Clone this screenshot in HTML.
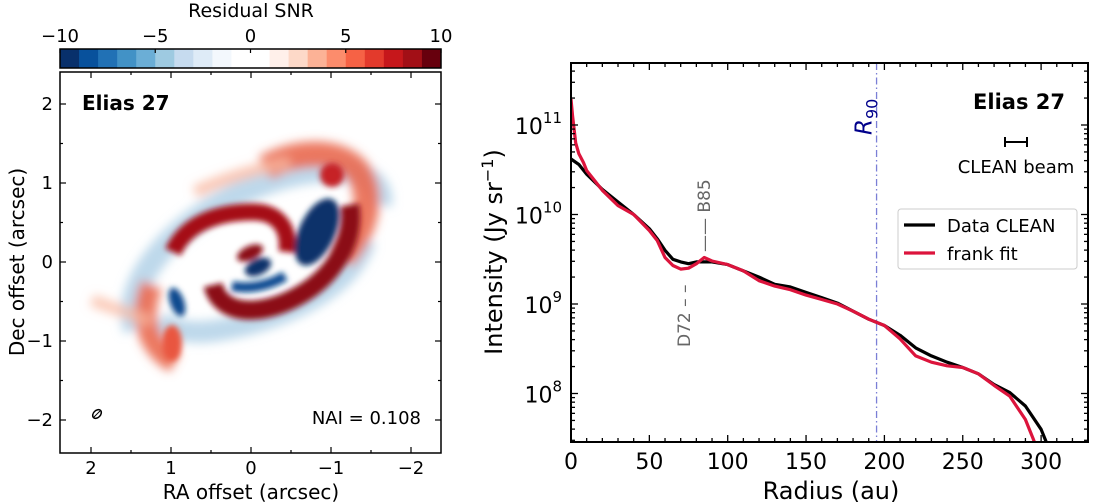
<!DOCTYPE html>
<html><head><meta charset="utf-8">
<style>
html,body{margin:0;padding:0;background:#fff;}
svg{display:block;font-family:"DejaVu Sans","Liberation Sans",sans-serif;}
</style></head>
<body>
<svg id="fig" width="1093" height="503" viewBox="0 0 1093 503" xmlns="http://www.w3.org/2000/svg">
<defs>
<clipPath id="lclip"><rect x="60" y="72" width="381" height="381"/></clipPath>
<clipPath id="rclip"><rect x="571" y="63" width="517" height="379"/></clipPath>
<filter id="blur" x="-20%" y="-20%" width="140%" height="140%"><feGaussianBlur stdDeviation="3"/></filter>
<filter id="blur2" x="-20%" y="-20%" width="140%" height="140%"><feGaussianBlur stdDeviation="5"/></filter>
</defs>

<!-- LEFT PANEL -->
<text x="251" y="17" text-anchor="middle" font-size="19">Residual SNR</text>
<g id="cbar"></g>

<g clip-path="url(#lclip)">
  <g filter="url(#blur2)">
    <path d="M135,330 C120,280 180,215 260,185 C330,158 385,170 380,205" fill="none" stroke="#b3d1e8" stroke-width="24" opacity="0.85"/>
    <path d="M365,240 C350,290 280,320 220,330 C190,335 170,330 160,320" fill="none" stroke="#b3d1e8" stroke-width="22" opacity="0.85"/>
    <path d="M265,168 C300,148 345,150 360,175 C375,200 362,235 342,258" fill="none" stroke="#ea6a50" stroke-width="26" opacity="0.9"/>
    <path d="M152,285 C138,315 148,348 175,362" fill="none" stroke="#ea6a50" stroke-width="22" opacity="0.9"/>
    <path d="M195,192 C230,176 260,168 290,163" fill="none" stroke="#f9b9a2" stroke-width="12" opacity="0.8"/>
    <path d="M92,300 C110,308 130,312 150,322" fill="none" stroke="#f9b9a2" stroke-width="12" opacity="0.75"/>
  </g>
  <g filter="url(#blur)">
    <circle cx="332" cy="175" r="12" fill="#c62328"/>
    <ellipse cx="172" cy="343" rx="10" ry="18" fill="#e9573f"/>
    <path d="M173,252 C185,225 215,212 253,212 C275,212 290,225 287,252" fill="none" stroke="#a50f15" stroke-width="17"/>
    <path d="M213,285 C220,315 260,318 300,295 C335,275 355,240 350,205" fill="none" stroke="#8b0a12" stroke-width="19"/>
    <ellipse cx="250" cy="253" rx="14" ry="7" transform="rotate(-25 250 253)" fill="#8b0a12"/>
    <ellipse cx="317" cy="232" rx="18" ry="36" transform="rotate(25 317 232)" fill="#08306b"/>
    <ellipse cx="258" cy="267" rx="14" ry="8" transform="rotate(-25 258 267)" fill="#08306b"/>
    <path d="M232,286 C250,290 270,285 285,276" fill="none" stroke="#0b4c92" stroke-width="10"/>
    <ellipse cx="177" cy="302" rx="7" ry="15" transform="rotate(-20 177 302)" fill="#0d4a8e"/>
  </g>
</g>
<rect x="60" y="72" width="381" height="381" fill="none" stroke="#000" stroke-width="1.5"/>
<g id="lticks"></g>
<text x="82" y="110" font-size="20" font-weight="bold">Elias 27</text>
<text x="421" y="424" font-size="18" text-anchor="end">NAI = 0.108</text>
<ellipse cx="97" cy="414" rx="5" ry="3.5" transform="rotate(-45 97 414)" fill="none" stroke="#000" stroke-width="1.5"/>
<line x1="94" y1="417" x2="100" y2="411" stroke="#000" stroke-width="1"/>
<text x="251" y="499" font-size="20" text-anchor="middle">RA offset  (arcsec)</text>
<text transform="translate(24 262) rotate(-90)" font-size="20" text-anchor="middle">Dec offset  (arcsec)</text>

<!-- RIGHT PANEL -->
<g id="rplot"></g>
</svg>

<script>
// Radial profile data (radius in au, log10 intensity in Jy/sr)
const cleanRadius = [0,5,10,20,30,40,50,55,60,65,70,75,80,90,100,110,120,130,140,150,160,170,180,190,200,210,220,230,240,250,260,270,280,290,300,303,306];
const cleanLogI   = [10.62,10.56,10.45,10.28,10.14,10.0,9.84,9.73,9.6,9.5,9.47,9.45,9.47,9.47,9.44,9.37,9.3,9.22,9.19,9.13,9.07,9.01,8.92,8.83,8.76,8.65,8.51,8.42,8.35,8.29,8.22,8.1,8.01,7.86,7.6,7.47,7.35];
const frankRadius = [0,1,3,5,8,10,20,30,40,50,55,60,65,70,75,80,85,90,100,110,120,130,140,150,160,170,180,190,200,210,220,230,240,250,260,270,280,290,295,298];
const frankLogI   = [11.29,11.1,10.8,10.68,10.58,10.49,10.27,10.1,10.0,9.82,9.71,9.52,9.43,9.39,9.4,9.45,9.52,9.48,9.44,9.37,9.26,9.2,9.16,9.1,9.05,9.0,8.92,8.83,8.76,8.61,8.42,8.35,8.31,8.29,8.22,8.09,7.97,7.71,7.49,7.35];
const r90 = 195;
const xTicks = [0,50,100,150,200,250,300];
const yDecades = [8,9,10,11];
const cbarTicks = [-10,-5,0,5,10];
const cbarColors = ["#08306b","#08519c","#2171b5","#4292c6","#6baed6","#9ecae1","#c6dbef","#deebf7","#f3f8fd","#ffffff","#ffffff","#fff0ea","#fdd9c8","#fcb296","#fc8c6c","#f66245","#e33a2c","#c6171b","#a20f16","#67000d"];
const mapTicks = [-2,-1,0,1,2];

const NS = "http://www.w3.org/2000/svg";
function mk(parent, tag, attrs, text){
  const e = document.createElementNS(NS, tag);
  for (const k in attrs) e.setAttribute(k, attrs[k]);
  if (text !== undefined) e.textContent = text;
  parent.appendChild(e);
  return e;
}

// colorbar
const cb = document.getElementById('cbar');
const cbX0 = 60, cbX1 = 441, cbY = 49, cbH = 19;
const cw = (cbX1 - cbX0) / cbarColors.length;
cbarColors.forEach((c, i) => {
  const r = mk(cb, 'rect', {x: cbX0 + i*cw, y: cbY, width: cw+0.5, height: cbH, fill: c});
  
  
});
mk(cb, 'rect', {x: cbX0, y: cbY, width: cbX1-cbX0, height: cbH, fill: 'none', stroke: '#000', 'stroke-width': 1.5});
const cbx = v => cbX0 + (v + 10) / 20 * (cbX1 - cbX0);
cbarTicks.forEach(v => {
  mk(cb, 'line', {x1: cbx(v), x2: cbx(v), y1: cbY, y2: cbY+4, stroke: '#000', 'stroke-width': 1.2});
  const t = mk(cb, 'text', {x: cbx(v), y: 42, 'font-size': 18, 'text-anchor': 'middle'}, v < 0 ? '\u2212' + Math.abs(v) : String(v));
  
  
});

// map ticks
const lt = document.getElementById('lticks');
const mx = v => 251 - v * 80;
const my = v => 262 - v * 79;
for (let v = -2.3; v <= 2.31; v += 0.1) {
  const vv = Math.round(v*10)/10;
  const major = Math.abs(vv - Math.round(vv)) < 1e-6;
  const minorOk = Math.abs(vv*4 - Math.round(vv*4)) < 1e-6;
  if (!major && !minorOk) continue;
  const L = major ? 6 : 3;
  const x = mx(vv), y = my(vv);
  if (x >= 60 && x <= 441) {
    mk(lt, 'line', {x1: x, x2: x, y1: 453, y2: 453-L, stroke: '#000', 'stroke-width': 1.2});
    mk(lt, 'line', {x1: x, x2: x, y1: 72, y2: 72+L, stroke: '#000', 'stroke-width': 1.2});
  }
  if (y >= 72 && y <= 453) {
    mk(lt, 'line', {x1: 60, x2: 60+L, y1: y, y2: y, stroke: '#000', 'stroke-width': 1.2});
    mk(lt, 'line', {x1: 441, x2: 441-L, y1: y, y2: y, stroke: '#000', 'stroke-width': 1.2});
  }
}
mapTicks.forEach(v => {
  const s = v < 0 ? '\u2212' + Math.abs(v) : String(v);
  const a = mk(lt, 'text', {x: mx(v), y: 474, 'font-size': 18, 'text-anchor': 'middle'}, s);
  
  
  const b = mk(lt, 'text', {x: 53, y: my(v)+6, 'font-size': 18, 'text-anchor': 'end'}, s);
  
  
});

// right plot
const rp = document.getElementById('rplot');
const PX0 = 571, PX1 = 1088, PY0 = 63, PY1 = 442;
const xs = r => PX0 + r * 1.567;
const ys = l => 304 - (l - 9) * 89.5;

function linePath(rs, ls){
  return rs.map((r, i) => (i ? 'L' : 'M') + xs(r).toFixed(1) + ',' + ys(ls[i]).toFixed(1)).join(' ');
}
const gClip = mk(rp, 'g', {'clip-path': 'url(#rclip)'});
const rl = mk(gClip, 'line', {x1: xs(r90), x2: xs(r90), y1: PY0, y2: PY1, stroke: '#7b7fd6', 'stroke-width': 1.3, 'stroke-dasharray': '7,3,1.5,3'});


const cl = mk(gClip, 'path', {d: linePath(cleanRadius, cleanLogI), fill: 'none', stroke: '#000', 'stroke-width': 3.2, 'stroke-linejoin': 'round'});


const fl = mk(gClip, 'path', {d: linePath(frankRadius, frankLogI), fill: 'none', stroke: '#dc143c', 'stroke-width': 3.2, 'stroke-linejoin': 'round'});



mk(rp, 'rect', {x: PX0, y: PY0, width: PX1-PX0, height: PY1-PY0, fill: 'none', stroke: '#000', 'stroke-width': 2});

for (let r = 0; r <= 330; r += 10) {
  const major = r % 50 === 0;
  const L = major ? 7 : 4;
  mk(rp, 'line', {x1: xs(r), x2: xs(r), y1: PY1, y2: PY1-L, stroke: '#000', 'stroke-width': 1.3});
  mk(rp, 'line', {x1: xs(r), x2: xs(r), y1: PY0, y2: PY0+L, stroke: '#000', 'stroke-width': 1.3});
}
xTicks.forEach(r => {
  const t = mk(rp, 'text', {x: xs(r), y: 469, 'font-size': 22, 'text-anchor': 'middle'}, String(r));
  
  
});
for (let d = 7; d <= 11; d++) {
  for (let m = 1; m <= 9; m++) {
    const l = d + Math.log10(m);
    const y = ys(l);
    if (y < PY0 || y > PY1) continue;
    const L = m === 1 ? 7 : 4;
    mk(rp, 'line', {x1: PX0, x2: PX0+L, y1: y, y2: y, stroke: '#000', 'stroke-width': 1.3});
    mk(rp, 'line', {x1: PX1, x2: PX1-L, y1: y, y2: y, stroke: '#000', 'stroke-width': 1.3});
  }
}
yDecades.forEach(d => {
  const t = mk(rp, 'text', {x: 562, y: ys(d)+9, 'font-size': 22, 'text-anchor': 'end'});
  
  
  mk(t, 'tspan', {}, '10');
  mk(t, 'tspan', {dy: -11, 'font-size': 15}, String(d));
});

const xt = mk(rp, 'text', {x: 831, y: 499, 'font-size': 24, 'text-anchor': 'middle'}, 'Radius (au)');


const yt = mk(rp, 'text', {transform: 'translate(502 252) rotate(-90)', 'font-size': 24, 'text-anchor': 'middle'});


mk(yt, 'tspan', {}, 'Intensity (Jy sr');
mk(yt, 'tspan', {dy: -9, 'font-size': 16}, '\u22121');
mk(yt, 'tspan', {dy: 9}, ')');

const r9 = mk(rp, 'text', {transform: 'translate(' + (xs(r90)-5) + ' 135) rotate(-90)', 'font-size': 23, fill: '#00008b'});


mk(r9, 'tspan', {'font-style': 'italic'}, 'R');
mk(r9, 'tspan', {dy: 6, 'font-size': 16}, '90');

const d72 = mk(rp, 'text', {transform: 'translate(' + (xs(72)+6) + ' 347) rotate(-90)', 'font-size': 17, fill: '#666'}, 'D72 \u2013 \u2013');


const b85 = mk(rp, 'text', {transform: 'translate(' + (xs(85)+6) + ' 252) rotate(-90)', 'font-size': 17, fill: '#666'}, '\u2014\u2014 B85');



const ti = mk(rp, 'text', {x: 1065, y: 109, 'font-size': 21, 'font-weight': 'bold', 'text-anchor': 'end'}, 'Elias 27');


const bm = mk(rp, 'g', {});


mk(bm, 'line', {x1: 1005, x2: 1027, y1: 142, y2: 142, stroke: '#000', 'stroke-width': 2});
mk(bm, 'line', {x1: 1005, x2: 1005, y1: 137, y2: 147, stroke: '#000', 'stroke-width': 2});
mk(bm, 'line', {x1: 1027, x2: 1027, y1: 137, y2: 147, stroke: '#000', 'stroke-width': 2});
const bt = mk(rp, 'text', {x: 1016, y: 173, 'font-size': 18, 'text-anchor': 'middle'}, 'CLEAN beam');



const lg = mk(rp, 'g', {});


mk(lg, 'rect', {x: 898, y: 209, width: 179, height: 60, rx: 3, fill: '#fff', stroke: '#ccc', 'stroke-width': 1});
mk(lg, 'line', {x1: 904, x2: 935, y1: 225, y2: 225, stroke: '#000', 'stroke-width': 3.2});
const le1 = mk(lg, 'text', {x: 947, y: 232, 'font-size': 18}, 'Data CLEAN');


mk(lg, 'line', {x1: 904, x2: 935, y1: 253, y2: 253, stroke: '#dc143c', 'stroke-width': 3.2});
const le2 = mk(lg, 'text', {x: 947, y: 260, 'font-size': 18}, 'frank fit');


</script>
</body></html>
